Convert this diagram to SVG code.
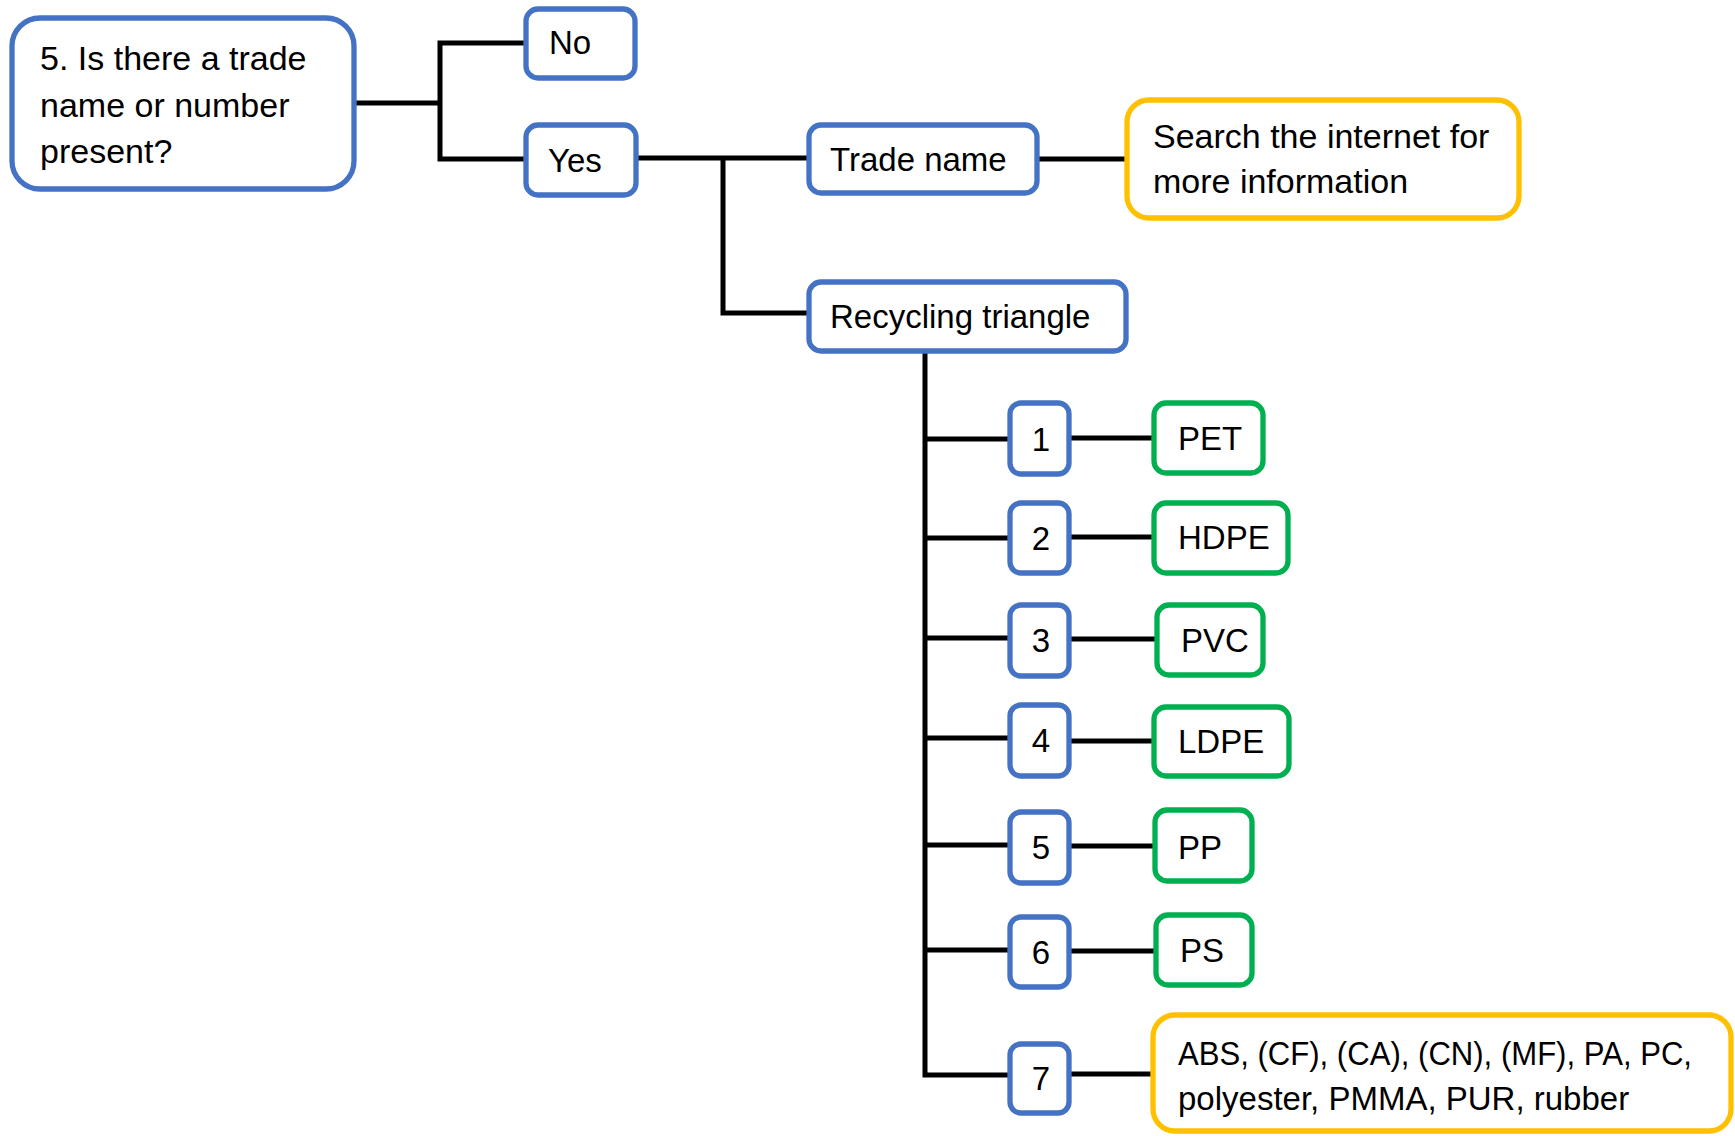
<svg xmlns="http://www.w3.org/2000/svg" width="1735" height="1136" viewBox="0 0 1735 1136">
<style>
.box{fill:#fff;stroke-width:5.3}
.b{stroke:#4472C4}
.g{stroke:#00B050}
.o{stroke:#FFC000}
.t{font-family:"Liberation Sans",Arial,sans-serif;font-size:33px;fill:#000}
.l{font-size:34px}
.n{text-anchor:middle}
#connectors path{fill:none;stroke:#000;stroke-width:5;stroke-linejoin:miter}
</style>
<rect width="1735" height="1136" fill="#fff"/>
<g id="connectors">
<path d="M354 103 H440"/>
<path d="M526 43 H440 V159 H526"/>
<path d="M636 158 H809"/>
<path d="M723 158 V313 H809"/>
<path d="M1037 159 H1127"/>
<path d="M925 351 V1075 H1010"/>
<path d="M925 439 H1010"/>
<path d="M925 538 H1010"/>
<path d="M925 638 H1010"/>
<path d="M925 738 H1010"/>
<path d="M925 845 H1010"/>
<path d="M925 950 H1010"/>
<path d="M1069 438 H1154"/>
<path d="M1069 537 H1154"/>
<path d="M1069 639 H1157"/>
<path d="M1069 741 H1154"/>
<path d="M1069 846 H1155"/>
<path d="M1069 951 H1156"/>
<path d="M1069 1074 H1153"/>
</g>
<g id="question">
<rect class="box b" x="12" y="18" width="342" height="171" rx="28"/>
<text class="t l" x="40" y="70">5. Is there a trade</text>
<text class="t l" x="40" y="117">name or number</text>
<text class="t l" x="40" y="163">present?</text>
</g>
<g id="no">
<rect class="box b" x="526" y="9" width="109" height="69" rx="12"/>
<text class="t" x="549" y="54">No</text>
</g>
<g id="yes">
<rect class="box b" x="526" y="125" width="110" height="70" rx="12"/>
<text class="t" x="548" y="172">Yes</text>
</g>
<g id="tradename">
<rect class="box b" x="809" y="125" width="228" height="68" rx="12"/>
<text class="t" x="830" y="171">Trade name</text>
</g>
<g id="search">
<rect class="box o" x="1127" y="100" width="392" height="118" rx="22"/>
<text class="t l" x="1153" y="148">Search the internet for</text>
<text class="t l" x="1153" y="193">more information</text>
</g>
<g id="recycling">
<rect class="box b" x="809" y="282" width="317" height="69" rx="12"/>
<text class="t" x="830" y="328">Recycling triangle</text>
</g>
<g id="n1"><rect class="box b" x="1010" y="403" width="59" height="71" rx="11"/><text class="t n" x="1041" y="451">1</text></g>
<g id="n2"><rect class="box b" x="1010" y="503" width="59" height="70" rx="11"/><text class="t n" x="1041" y="550">2</text></g>
<g id="n3"><rect class="box b" x="1010" y="605" width="59" height="71" rx="11"/><text class="t n" x="1041" y="652">3</text></g>
<g id="n4"><rect class="box b" x="1010" y="705" width="59" height="71" rx="11"/><text class="t n" x="1041" y="752">4</text></g>
<g id="n5"><rect class="box b" x="1010" y="812" width="59" height="71" rx="11"/><text class="t n" x="1041" y="859">5</text></g>
<g id="n6"><rect class="box b" x="1010" y="917" width="59" height="70" rx="11"/><text class="t n" x="1041" y="964">6</text></g>
<g id="n7"><rect class="box b" x="1010" y="1044" width="59" height="69" rx="11"/><text class="t n" x="1041" y="1090">7</text></g>
<g id="pet"><rect class="box g" x="1154" y="403" width="109" height="70" rx="12"/><text class="t" x="1178" y="450">PET</text></g>
<g id="hdpe"><rect class="box g" x="1154" y="503" width="134" height="70" rx="12"/><text class="t" x="1178" y="549">HDPE</text></g>
<g id="pvc"><rect class="box g" x="1157" y="605" width="106" height="70" rx="12"/><text class="t" x="1181" y="652">PVC</text></g>
<g id="ldpe"><rect class="box g" x="1154" y="707" width="135" height="69" rx="12"/><text class="t" x="1178" y="753">LDPE</text></g>
<g id="pp"><rect class="box g" x="1155" y="810" width="97" height="71" rx="12"/><text class="t" x="1178" y="859">PP</text></g>
<g id="ps"><rect class="box g" x="1156" y="915" width="96" height="70" rx="12"/><text class="t" x="1180" y="962">PS</text></g>
<g id="other">
<rect class="box o" x="1153" y="1015" width="578" height="116" rx="22"/>
<text class="t" x="1178" y="1065" textLength="514" lengthAdjust="spacingAndGlyphs">ABS, (CF), (CA), (CN), (MF), PA, PC,</text>
<text class="t" x="1178" y="1110">polyester, PMMA, PUR, rubber</text>
</g>
</svg>
